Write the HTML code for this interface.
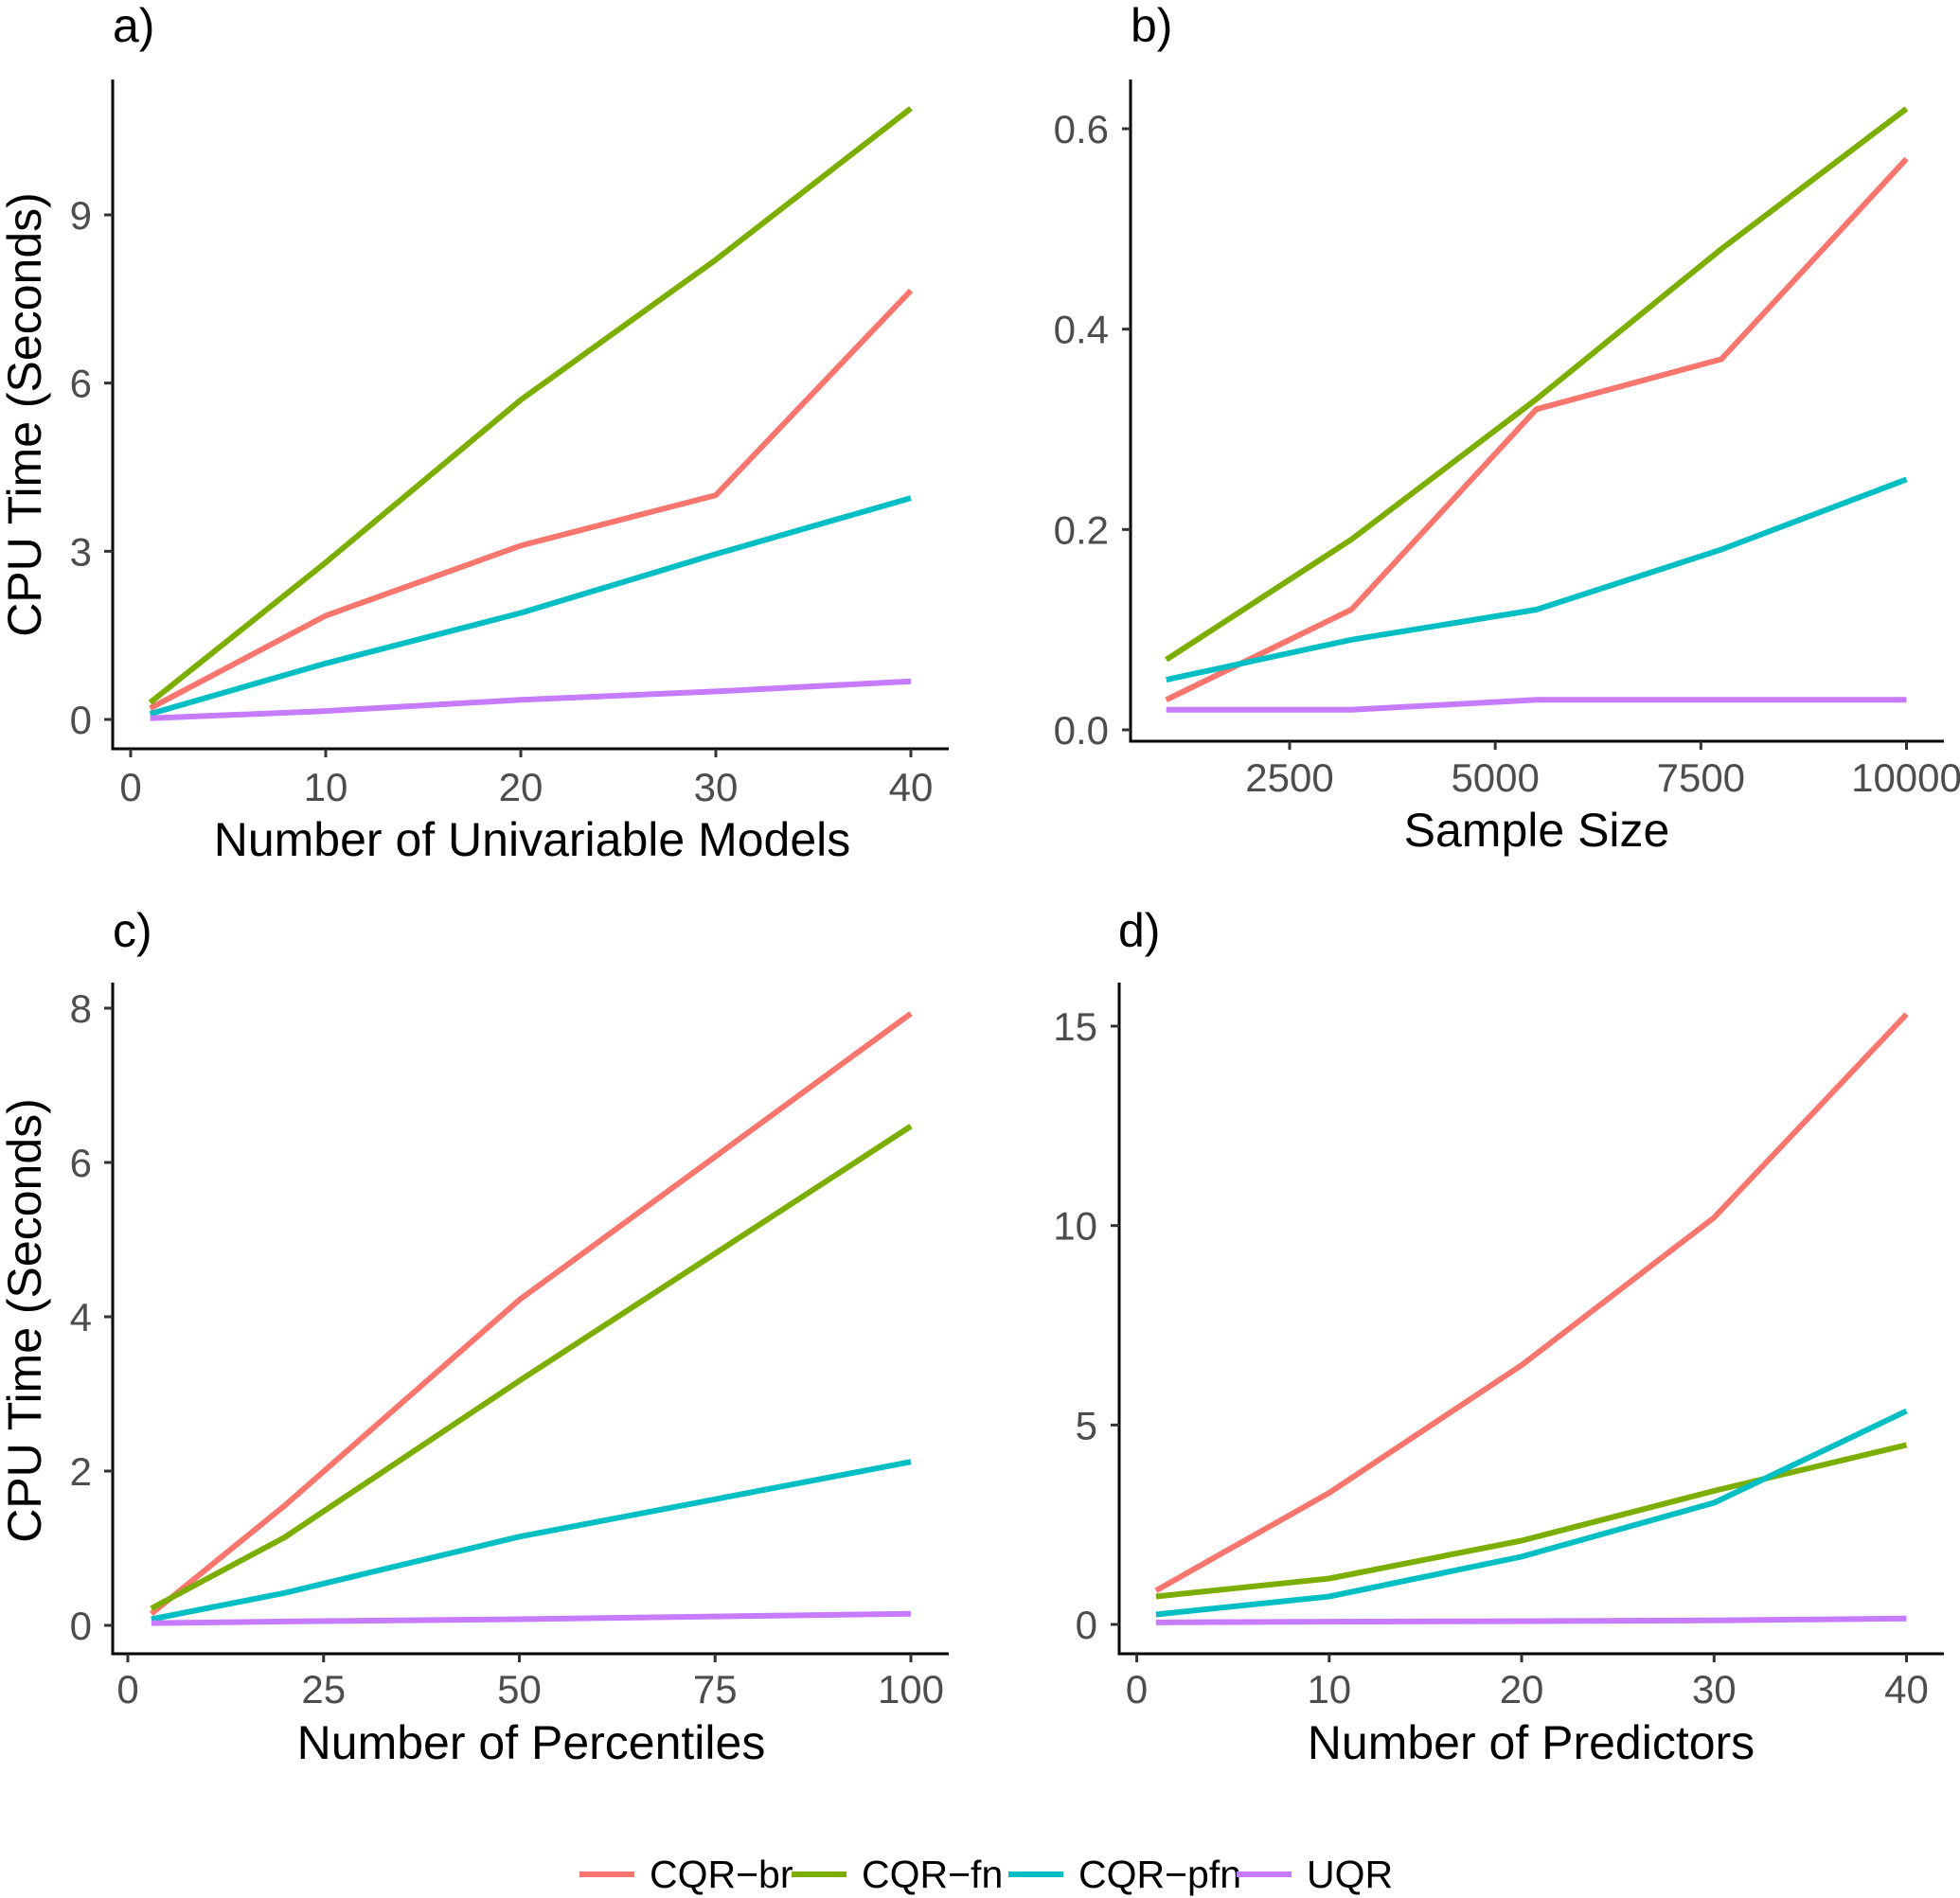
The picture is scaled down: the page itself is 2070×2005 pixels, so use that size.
<!DOCTYPE html>
<html><head><meta charset="utf-8"><style>
html,body{margin:0;padding:0;background:#fff;}
svg{display:block;font-family:"Liberation Sans",sans-serif;}
</style></head><body>
<svg id="chart" width="2070" height="2005" viewBox="0 0 2070 2005" xmlns="http://www.w3.org/2000/svg"></svg>
<script>
const seriesNames = ["CQR\u2212br","CQR\u2212fn","CQR\u2212pfn","UQR"];
const seriesColors = ["#F8766D","#7CAE00","#00BFC4","#C77CFF"];

const aX = [1,10,20,30,40];
const aBr = [0.2,1.85,3.1,4.0,7.65];
const aFn = [0.3,2.8,5.7,8.2,10.9];
const aPfn = [0.1,1.0,1.9,2.95,3.95];
const aUqr = [0.02,0.15,0.35,0.5,0.68];
const aXTicks = [0,10,20,30,40];
const aYTicks = [0,3,6,9];

const bX = [1000,3250,5500,7750,10000];
const bBr = [0.03,0.12,0.32,0.37,0.57];
const bFn = [0.07,0.19,0.33,0.48,0.62];
const bPfn = [0.05,0.09,0.12,0.18,0.25];
const bUqr = [0.02,0.02,0.03,0.03,0.03];
const bXTicks = [2500,5000,7500,10000];
const bYTicks = [0,0.2,0.4,0.6];
const bYLabels = ["0.0","0.2","0.4","0.6"];

const cX = [3,20,50,100];
const cBr = [0.15,1.55,4.22,7.93];
const cFn = [0.22,1.14,3.17,6.47];
const cPfn = [0.08,0.42,1.15,2.12];
const cUqr = [0.03,0.05,0.08,0.15];
const cXTicks = [0,25,50,75,100];
const cYTicks = [0,2,4,6,8];

const dX = [1,10,20,30,40];
const dBr = [0.85,3.3,6.5,10.2,15.3];
const dFn = [0.7,1.15,2.1,3.35,4.5];
const dPfn = [0.25,0.7,1.7,3.05,5.35];
const dUqr = [0.05,0.07,0.08,0.1,0.15];
const dXTicks = [0,10,20,30,40];
const dYTicks = [0,5,10,15];

const NS = "http://www.w3.org/2000/svg";
const svg = document.getElementById("chart");
function mk(tag, attrs, parent){
  const e = document.createElementNS(NS, tag);
  for (const k in attrs) e.setAttribute(k, attrs[k]);
  (parent||svg).appendChild(e);
  return e;
}

const panels = [
 {id:"a", label:"a)", lx:119, ly:44, axX:119, axTop:84, axY:791, axR:1002,
  x0:0,x0p:138,x1:40,x1p:962, y0:0,y0p:760,y1:9,y1p:227,
  xs:aX, ys:[aBr,aFn,aPfn,aUqr], xt:aXTicks, yt:aYTicks, ytl:null,
  xlBase:846, ylRight:97, title:"Number of Univariable Models", tx:562, ty:904, ytitle:true, ytCy:438},
 {id:"b", label:"b)", lx:1194, ly:44, axX:1194, axTop:84, axY:783, axR:2053,
  x0:2500,x0p:1362,x1:10000,x1p:2013.5, y0:0,y0p:771,y1:0.6,y1p:136,
  xs:bX, ys:[bBr,bFn,bPfn,bUqr], xt:bXTicks, yt:bYTicks, ytl:bYLabels,
  xlBase:836, ylRight:1171, title:"Sample Size", tx:1623, ty:894, ytitle:false},
 {id:"c", label:"c)", lx:119, ly:1000, axX:119, axTop:1038, axY:1747, axR:1002,
  x0:0,x0p:135,x1:100,x1p:962, y0:0,y0p:1717,y1:8,y1p:1065,
  xs:cX, ys:[cBr,cFn,cPfn,cUqr], xt:cXTicks, yt:cYTicks, ytl:null,
  xlBase:1799, ylRight:97, title:"Number of Percentiles", tx:561, ty:1858, ytitle:true, ytCy:1395},
 {id:"d", label:"d)", lx:1181, ly:1000, axX:1182, axTop:1038, axY:1747, axR:2053,
  x0:0,x0p:1200.6,x1:40,x1p:2013.5, y0:0,y0p:1716,y1:15,y1p:1084,
  xs:dX, ys:[dBr,dFn,dPfn,dUqr], xt:dXTicks, yt:dYTicks, ytl:null,
  xlBase:1799, ylRight:1159, title:"Number of Predictors", tx:1617, ty:1858, ytitle:false}
];

panels.forEach(p=>{
  const g = mk("g",{});
  
  
  const sx = v => p.x0p + (v-p.x0)*(p.x1p-p.x0p)/(p.x1-p.x0);
  const sy = v => p.y0p + (v-p.y0)*(p.y1p-p.y0p)/(p.y1-p.y0);

  const lab = mk("text",{x:p.lx,y:p.ly,"font-size":50,fill:"#000"},g);
  lab.textContent = p.label;
  
  

  p.ys.forEach((vals,i)=>{
    const pts = vals.map((v,j)=>sx(p.xs[j]).toFixed(1)+","+sy(v).toFixed(1)).join(" ");
    const pl = mk("polyline",{points:pts,fill:"none",stroke:seriesColors[i],"stroke-width":6,"stroke-linejoin":"round"},g);
    
    
  });

  const ya = mk("line",{x1:p.axX,y1:p.axTop,x2:p.axX,y2:p.axY+1.5,stroke:"#000","stroke-width":3},g);
  
  
  const xa = mk("line",{x1:p.axX-1.5,y1:p.axY,x2:p.axR,y2:p.axY,stroke:"#000","stroke-width":3},g);
  
  

  p.xt.forEach(v=>{
    const x = sx(v);
    mk("line",{x1:x,y1:p.axY,x2:x,y2:p.axY+9,stroke:"#333","stroke-width":3},g);
    const t = mk("text",{x:x,y:p.xlBase,"font-size":42,fill:"#4d4d4d","text-anchor":"middle"},g);
    t.textContent = String(v);
    
    
  });
  p.yt.forEach((v,i)=>{
    const y = sy(v);
    mk("line",{x1:p.axX-9,y1:y,x2:p.axX,y2:y,stroke:"#333","stroke-width":3},g);
    const t = mk("text",{x:p.ylRight,y:y+15,"font-size":42,fill:"#4d4d4d","text-anchor":"end"},g);
    t.textContent = p.ytl ? p.ytl[i] : String(v);
    
    
  });

  const xt = mk("text",{x:p.tx,y:p.ty,"font-size":50,fill:"#000","text-anchor":"middle"},g);
  xt.textContent = p.title;
  
  
  if (p.ytitle){
    const yt = mk("text",{x:0,y:0,"font-size":50,fill:"#000","text-anchor":"middle",transform:"translate(43,"+p.ytCy+") rotate(-90)"},g);
    yt.textContent = "CPU Time (Seconds)";
    
    
  }
});

const legendLineX = [612,836,1065,1306];
const lg = mk("g",{});


seriesNames.forEach((n,i)=>{
  const x = legendLineX[i];
  const e = mk("g",{},lg);
  
  
  mk("line",{x1:x,y1:1980,x2:x+58,y2:1980,stroke:seriesColors[i],"stroke-width":6},e);
  const t = mk("text",{x:x+74,y:1994,"font-size":41,fill:"#000"},e);
  t.textContent = n;
});
</script>
</body></html>
